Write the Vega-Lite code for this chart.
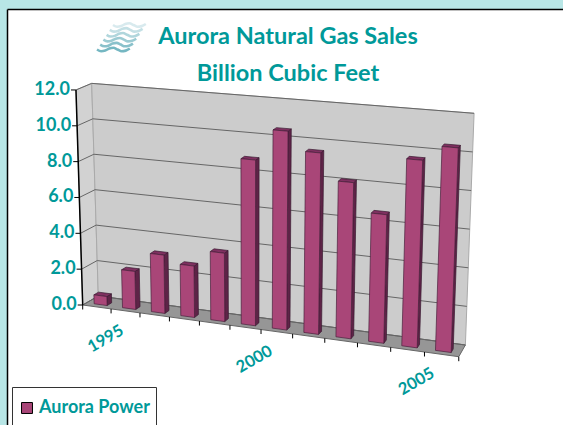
{
"$schema":"https://vega.github.io/schema/vega-lite/v6.json",
"width":556,"height":416,"autosize":"none","padding":{"left":7,"top":9,"right":0,"bottom":0},
"background":"#B8E6E6",
"view":{"fill":"white","stroke":null},
"title":{"text":["Aurora Natural Gas Sales","Billion Cubic Feet"],"lineHeight":37,"fontSize":23.5,"font":"Lato","fontWeight":"bold","color":"#009999","anchor":"middle","frame":"group","dx":3,"offset":-100,"baseline":"bottom"},
"datasets":{
"bars":[{"year":1995,"value":0.5,"series":"Aurora Power"},{"year":1996,"value":2.1,"series":"Aurora Power"},{"year":1997,"value":3.2,"series":"Aurora Power"},{"year":1998,"value":2.8,"series":"Aurora Power"},{"year":1999,"value":3.7,"series":"Aurora Power"},{"year":2000,"value":8.9,"series":"Aurora Power"},{"year":2001,"value":10.6,"series":"Aurora Power"},{"year":2002,"value":9.6,"series":"Aurora Power"},{"year":2003,"value":8.2,"series":"Aurora Power"},{"year":2004,"value":6.7,"series":"Aurora Power"},{"year":2005,"value":9.7,"series":"Aurora Power"},{"year":2006,"value":10.5,"series":"Aurora Power"}],
"yticks":[{"value":0},{"value":2},{"value":4},{"value":6},{"value":8},{"value":10},{"value":12}],
"xticks":[{"year":1995},{"year":1996},{"year":1997},{"year":1998},{"year":1999},{"year":2000},{"year":2001},{"year":2002},{"year":2003},{"year":2004},{"year":2005},{"year":2006},{"year":2007}],
"logo":[{"wave":0},{"wave":1},{"wave":2},{"wave":3},{"wave":4},{"wave":5}],
"surface":[{"surface":"plot box"}]
},
"encoding":{
"x":{"field":"px","type":"quantitative","scale":{"domain":[7,563],"zero":false,"nice":false},"axis":{"orient":"top","domainColor":"black","domainWidth":1.5,"ticks":false,"labels":false,"grid":false,"title":null}},
"y":{"field":"py","type":"quantitative","scale":{"domain":[425,9],"zero":false,"nice":false},"axis":{"orient":"left","domainColor":"black","domainWidth":1.5,"ticks":false,"labels":false,"grid":false,"title":null}}
},
"layer":[
{"data":{"name":"logo"},"transform":[{"calculate":"[0,1,2,3,4,5,6,7,8]","as":"k"},{"flatten":["k"]},{"calculate":"113-datum.wave*3.2+datum.k*4.1","as":"px"},{"calculate":"25+datum.wave*4.9+1.8*sin(datum.k*1.25)","as":"py"}],
"mark":{"type":"line","interpolate":"monotone","stroke":"#3A98A8","strokeWidth":2.6},
"encoding":{"detail":{"field":"wave"},"order":{"field":"k"},"opacity":{"field":"wave","type":"quantitative","scale":{"domain":[0,5],"range":[0.2,0.7]},"legend":null}}},
{"data":{"name":"surface"},"transform":[{"calculate":"[0,1,2,3,4]","as":"k"},{"flatten":["k"]},{"calculate":"datum.k%4","as":"a"},
{"calculate":"0","as":"c"},{"calculate":"datum.a>=2?12:0","as":"v"},{"calculate":"(datum.a==1||datum.a==2)?1:0","as":"d"},
{"calculate":"(28.1*datum.c+0.27*datum.c*datum.c)/376","as":"u"},
{"calculate":"(1-datum.d)*(82.7-0.56*datum.v+datum.u*(376+1.26*datum.v))+datum.d*(98.3-0.55*datum.v+datum.u*(367+1.275*datum.v))","as":"px"},
{"calculate":"(1-datum.d)*(305-17.92*datum.v+datum.u*(51.7-1.68*datum.v))+datum.d*(296-17.72*datum.v+datum.u*(49-1.59*datum.v))","as":"py"}],
"mark":{"type":"line","fill":"#D2D2D2","stroke":"#AAAAAA","strokeWidth":1},"encoding":{"order":{"field":"k"}}},
{"data":{"name":"surface"},"transform":[{"calculate":"[0,1,2,3,4]","as":"k"},{"flatten":["k"]},{"calculate":"datum.k%4","as":"a"},
{"calculate":"(datum.a==1||datum.a==2)?12:0","as":"c"},{"calculate":"datum.a>=2?12:0","as":"v"},{"calculate":"1","as":"d"},
{"calculate":"(28.1*datum.c+0.27*datum.c*datum.c)/376","as":"u"},
{"calculate":"(1-datum.d)*(82.7-0.56*datum.v+datum.u*(376+1.26*datum.v))+datum.d*(98.3-0.55*datum.v+datum.u*(367+1.275*datum.v))","as":"px"},
{"calculate":"(1-datum.d)*(305-17.92*datum.v+datum.u*(51.7-1.68*datum.v))+datum.d*(296-17.72*datum.v+datum.u*(49-1.59*datum.v))","as":"py"}],
"mark":{"type":"line","fill":"#CCCCCC","stroke":"#AAAAAA","strokeWidth":1},"encoding":{"order":{"field":"k"}}},
{"data":{"name":"surface"},"transform":[{"calculate":"[0,1,2,3,4]","as":"k"},{"flatten":["k"]},{"calculate":"datum.k%4","as":"a"},
{"calculate":"(datum.a==1||datum.a==2)?12:0","as":"c"},{"calculate":"0","as":"v"},{"calculate":"datum.a>=2?1:0","as":"d"},
{"calculate":"(28.1*datum.c+0.27*datum.c*datum.c)/376","as":"u"},
{"calculate":"(1-datum.d)*(82.7-0.56*datum.v+datum.u*(376+1.26*datum.v))+datum.d*(98.3-0.55*datum.v+datum.u*(367+1.275*datum.v))","as":"px"},
{"calculate":"(1-datum.d)*(305-17.92*datum.v+datum.u*(51.7-1.68*datum.v))+datum.d*(296-17.72*datum.v+datum.u*(49-1.59*datum.v))","as":"py"}],
"mark":{"type":"line","fill":"#969696","stroke":"#666666","strokeWidth":1},"encoding":{"order":{"field":"k"}}},
{"data":{"name":"yticks"},"transform":[{"calculate":"[0,1,2]","as":"k"},{"flatten":["k"]},
{"calculate":"datum.k==2?12:0","as":"c"},{"calculate":"datum.value","as":"v"},{"calculate":"datum.k==0?0:1","as":"d"},
{"calculate":"(28.1*datum.c+0.27*datum.c*datum.c)/376","as":"u"},
{"calculate":"(1-datum.d)*(82.7-0.56*datum.v+datum.u*(376+1.26*datum.v))+datum.d*(98.3-0.55*datum.v+datum.u*(367+1.275*datum.v))","as":"px"},
{"calculate":"(1-datum.d)*(305-17.92*datum.v+datum.u*(51.7-1.68*datum.v))+datum.d*(296-17.72*datum.v+datum.u*(49-1.59*datum.v))","as":"py"}],
"mark":{"type":"line","stroke":"#666666","strokeWidth":1},"encoding":{"detail":{"field":"value"},"order":{"field":"k"}}},
{"data":{"name":"yticks"},"transform":[
{"calculate":"82.7-0.56*datum.value","as":"px"},
{"calculate":"305-17.92*datum.value","as":"py"},
{"calculate":"datum.px-5","as":"tx"},{"calculate":"format(datum.value,'.1f')","as":"label"}],
"layer":[
{"mark":{"type":"line","stroke":"black","strokeWidth":1.5},"encoding":{"order":{"field":"value"}}},
{"mark":{"type":"rule","stroke":"black","strokeWidth":1},"encoding":{"x2":{"field":"tx"}}},
{"mark":{"type":"text","align":"right","baseline":"middle","dx":-6,"dy":0,"font":"Lato","fontWeight":"bold","fontSize":18,"fill":"#009999"},"encoding":{"text":{"field":"label"}}}
]},
{"data":{"name":"xticks"},"transform":[{"calculate":"datum.year-1995","as":"c"},
{"calculate":"(28.1*datum.c+0.27*datum.c*datum.c)/376","as":"u"},
{"calculate":"82.7+datum.u*376","as":"px"},
{"calculate":"305+datum.u*51.7","as":"py"},{"calculate":"datum.py+4.5","as":"ty"}],
"mark":{"type":"rule","stroke":"black","strokeWidth":1},"encoding":{"y2":{"field":"ty"}}},
{"data":{"name":"bars"},"transform":[{"filter":"datum.year%5==0"},{"calculate":"datum.year-1995+0.5","as":"c"},
{"calculate":"(28.1*datum.c+0.27*datum.c*datum.c)/376","as":"u"},
{"calculate":"82.7+datum.u*376+9","as":"px"},
{"calculate":"305+datum.u*51.7+32","as":"py"},{"calculate":"''+datum.year","as":"label"}],
"mark":{"type":"text","angle":330,"align":"center","baseline":"middle","font":"Lato","fontWeight":"bold","fontSize":16.5,"fill":"#009999"},"encoding":{"text":{"field":"label"}}},
{"data":{"name":"bars"},"transform":[{"calculate":"[0,1,2,3,4]","as":"k"},{"flatten":["k"]},{"calculate":"datum.k%4","as":"a"},
{"calculate":"datum.year-1995+0.73","as":"c"},{"calculate":"datum.a>=2?datum.value:0","as":"v"},{"calculate":"(datum.a==1||datum.a==2)?0.55:0.25","as":"d"},
{"calculate":"(28.1*datum.c+0.27*datum.c*datum.c)/376","as":"u"},
{"calculate":"(1-datum.d)*(82.7-0.56*datum.v+datum.u*(376+1.26*datum.v))+datum.d*(98.3-0.55*datum.v+datum.u*(367+1.275*datum.v))","as":"px"},
{"calculate":"(1-datum.d)*(305-17.92*datum.v+datum.u*(51.7-1.68*datum.v))+datum.d*(296-17.72*datum.v+datum.u*(49-1.59*datum.v))","as":"py"}],
"mark":{"type":"line","fill":"#5E2347","stroke":"#3A1A30","strokeWidth":0.7},"encoding":{"detail":{"field":"year"},"order":{"field":"k"}}},
{"data":{"name":"bars"},"transform":[{"calculate":"[0,1,2,3,4]","as":"k"},{"flatten":["k"]},{"calculate":"datum.k%4","as":"a"},
{"calculate":"datum.year-1995+((datum.a==1||datum.a==2)?0.73:0.27)","as":"c"},{"calculate":"datum.value","as":"v"},{"calculate":"datum.a>=2?0.55:0.25","as":"d"},
{"calculate":"(28.1*datum.c+0.27*datum.c*datum.c)/376","as":"u"},
{"calculate":"(1-datum.d)*(82.7-0.56*datum.v+datum.u*(376+1.26*datum.v))+datum.d*(98.3-0.55*datum.v+datum.u*(367+1.275*datum.v))","as":"px"},
{"calculate":"(1-datum.d)*(305-17.92*datum.v+datum.u*(51.7-1.68*datum.v))+datum.d*(296-17.72*datum.v+datum.u*(49-1.59*datum.v))","as":"py"}],
"mark":{"type":"line","fill":"#7F3060","stroke":"#3A1A30","strokeWidth":0.7},"encoding":{"detail":{"field":"year"},"order":{"field":"k"}}},
{"data":{"name":"bars"},"transform":[{"calculate":"[0,1,2,3,4]","as":"k"},{"flatten":["k"]},{"calculate":"datum.k%4","as":"a"},
{"calculate":"datum.year-1995+((datum.a==1||datum.a==2)?0.73:0.27)","as":"c"},{"calculate":"datum.a>=2?datum.value:0","as":"v"},{"calculate":"0.25","as":"d"},
{"calculate":"(28.1*datum.c+0.27*datum.c*datum.c)/376","as":"u"},
{"calculate":"(1-datum.d)*(82.7-0.56*datum.v+datum.u*(376+1.26*datum.v))+datum.d*(98.3-0.55*datum.v+datum.u*(367+1.275*datum.v))","as":"px"},
{"calculate":"(1-datum.d)*(305-17.92*datum.v+datum.u*(51.7-1.68*datum.v))+datum.d*(296-17.72*datum.v+datum.u*(49-1.59*datum.v))","as":"py"}],
"mark":{"type":"line","fill":"#A94678","stroke":"#4A1F3C","strokeWidth":0.7},"encoding":{"detail":{"field":"year"},"order":{"field":"k"}}},
{"data":{"name":"bars"},"transform":[{"calculate":"150","as":"px"},{"calculate":"300","as":"py"}],
"mark":{"type":"square","size":0,"opacity":0},
"encoding":{"color":{"field":"series","type":"nominal","scale":{"range":["#A94678"]},"legend":{"orient":"none","legendX":5,"legendY":378,"title":null,"symbolType":"square","symbolSize":120,"symbolOpacity":1,"symbolStrokeColor":"black","symbolStrokeWidth":1,"symbolFillColor":"#A94678","labelColor":"#009999","labelFont":"Lato","labelFontWeight":"bold","labelFontSize":18,"labelOffset":3,"strokeColor":"#333333","fillColor":"white","padding":6,"clipHeight":30}}}}
]
}
